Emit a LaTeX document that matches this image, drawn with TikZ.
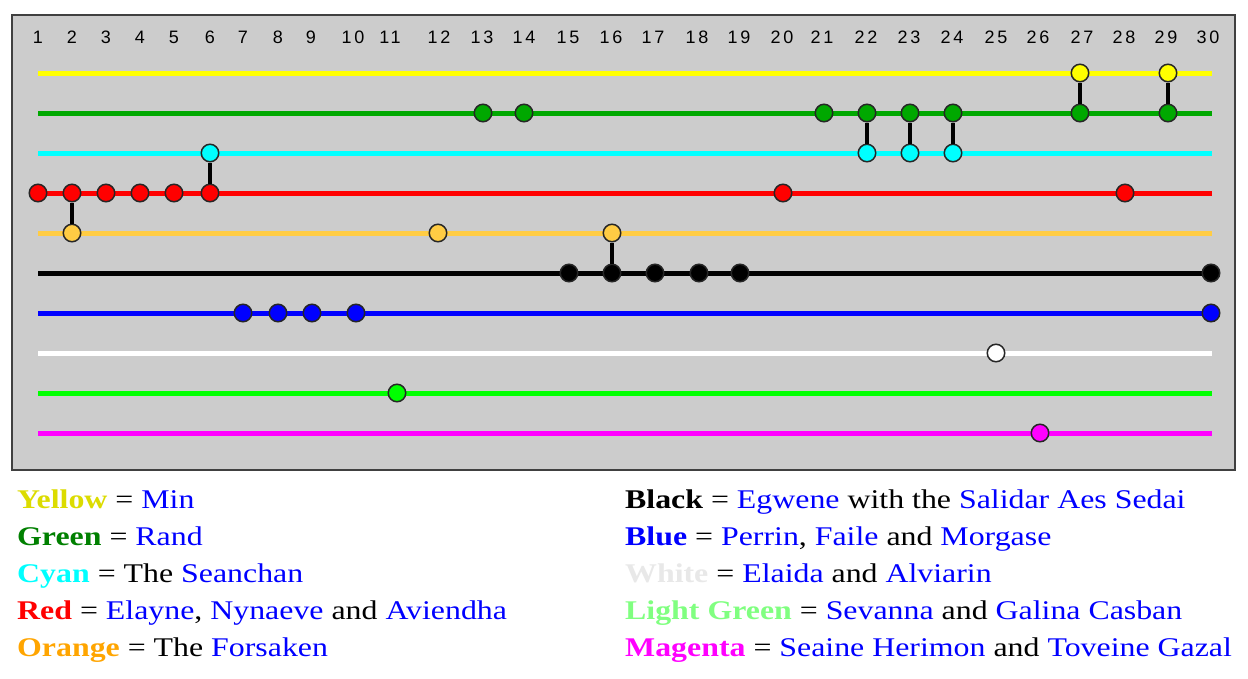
\documentclass[tikz,border=0pt]{standalone}
\usepackage{fontspec}
\usepackage{graphicx}
\setmainfont{Liberation Serif}
\newfontfamily\numfont[LetterSpace=15]{Liberation Sans}
\newcommand\legtext[1]{\scalebox{1.18}[1]{#1}}
\definecolor{boxbg}{HTML}{CCCCCC}
\definecolor{boxline}{HTML}{404040}
\definecolor{tyellow}{HTML}{FFFF00}
\definecolor{tgreen}{HTML}{00A800}
\definecolor{tcyan}{HTML}{00FFFF}
\definecolor{tred}{HTML}{FF0000}
\definecolor{torange}{HTML}{FFCC44}
\definecolor{tblack}{HTML}{000000}
\definecolor{tblue}{HTML}{0000FF}
\definecolor{twhite}{HTML}{FFFFFF}
\definecolor{tlgreen}{HTML}{00FF00}
\definecolor{tmagenta}{HTML}{FF00FF}
\definecolor{lyellow}{HTML}{DCDC00}
\definecolor{lgreen}{HTML}{008000}
\definecolor{lorange}{HTML}{FFA500}
\definecolor{llgreen}{HTML}{80FF80}
\definecolor{lwhite}{HTML}{E8E8E8}
\definecolor{nameblue}{HTML}{0000FF}
\begin{document}
\begin{tikzpicture}[x=1pt,y=-1pt,
  track/.style={line width=5pt,draw=#1},
  dotnode/.style={circle,draw=black!85,line width=1.5pt,minimum size=17.5pt,inner sep=0pt,fill=#1},
  conn/.style={line width=4pt,draw=black},
  numlab/.style={font=\fontsize{18}{19}\selectfont\numfont,text=black,anchor=base,inner sep=0pt},
  leg/.style={font=\fontsize{27}{30}\selectfont,anchor=base west,inner sep=0pt}]
\useasboundingbox (0,0) rectangle (1248,678);
\fill[white] (0,0) rectangle (1248,678);
\draw[boxline,line width=2pt,fill=boxbg] (12,15) rectangle (1235,470);
% column labels
\foreach \i/\x in {1/38,2/72,3/106,4/140,5/174,6/210,7/243,8/278,9/311,10/353,11/390,12/439,13/482,14/524,15/568,16/611,17/653,18/697,19/739,20/782,21/822,22/866,23/909,24/952,25/996,26/1038,27/1082,28/1124,29/1166,30/1208}
  \node[numlab] (n\i) at (\x,43) {\i};
% tracks
\foreach \n/\y/\c in {yel/73/tyellow,grn/113/tgreen,cya/153/tcyan,red/193/tred,ora/233/torange,blk/273/tblack,blu/313/tblue,wht/353/twhite,lgr/393/tlgreen,mag/433/tmagenta}{
  \coordinate (\n L) at (38,\y);
  \coordinate (\n R) at (1212,\y);
  \draw[track=\c] (\n L) -- (\n R);
}
\def\cols{{38,72,106,140,174,210,243,278,312,356,397,438,483,524,569,612,655,699,740,783,824,867,910,953,996,1040,1080,1125,1168,1211}}
% dots
\foreach \n/\y/\c/\list in {yel/73/tyellow/{27,29},grn/113/tgreen/{13,14,21,22,23,24,27,29},cya/153/tcyan/{6,22,23,24},red/193/tred/{1,2,3,4,5,6,20,28},ora/233/torange/{2,12,16},blk/273/tblack/{15,16,17,18,19,30},blu/313/tblue/{7,8,9,10,30},wht/353/twhite/{25},lgr/393/tlgreen/{11},mag/433/tmagenta/{26}}{
  \foreach \k in \list {
    \pgfmathsetmacro\xx{\cols[\k-1]}
    \node[dotnode=\c] (\n\k) at (\xx,\y) {};
  }
}
% connectors
\draw[conn] (yel27) -- (grn27);
\draw[conn] (yel29) -- (grn29);
\draw[conn] (grn22) -- (cya22);
\draw[conn] (grn23) -- (cya23);
\draw[conn] (grn24) -- (cya24);
\draw[conn] (cya6) -- (red6);
\draw[conn] (red2) -- (ora2);
\draw[conn] (ora16) -- (blk16);
% legend
\node[leg] (l1) at (17,508) {\legtext{\textcolor{lyellow}{\textbf{Yellow}} = \textcolor{nameblue}{Min}}};
\node[leg] (l2) at (17,545) {\legtext{\textcolor{lgreen}{\textbf{Green}} = \textcolor{nameblue}{Rand}}};
\node[leg] (l3) at (17,582) {\legtext{\textcolor{tcyan}{\textbf{Cyan}} = The \textcolor{nameblue}{Seanchan}}};
\node[leg] (l4) at (17,619) {\legtext{\textcolor{tred}{\textbf{Red}} = \textcolor{nameblue}{Elayne}, \textcolor{nameblue}{Nynaeve} and \textcolor{nameblue}{Aviendha}}};
\node[leg] (l5) at (17,656) {\legtext{\textcolor{lorange}{\textbf{Orange}} = The \textcolor{nameblue}{Forsaken}}};
\node[leg] (r1) at (625,508) {\legtext{\textbf{Black} = \textcolor{nameblue}{Egwene} with the \textcolor{nameblue}{Salidar Aes Sedai}}};
\node[leg] (r2) at (625,545) {\legtext{\textcolor{nameblue}{\textbf{Blue}} = \textcolor{nameblue}{Perrin}, \textcolor{nameblue}{Faile} and \textcolor{nameblue}{Morgase}}};
\node[leg] (r3) at (625,582) {\legtext{\textcolor{lwhite}{\textbf{White}} = \textcolor{nameblue}{Elaida} and \textcolor{nameblue}{Alviarin}}};
\node[leg] (r4) at (625,619) {\legtext{\textcolor{llgreen}{\textbf{Light Green}} = \textcolor{nameblue}{Sevanna} and \textcolor{nameblue}{Galina Casban}}};
\node[leg] (r5) at (625,656) {\legtext{\textcolor{tmagenta}{\textbf{Magenta}} = \textcolor{nameblue}{Seaine Herimon} and \textcolor{nameblue}{Toveine Gazal}}};
\end{tikzpicture}
\end{document}
